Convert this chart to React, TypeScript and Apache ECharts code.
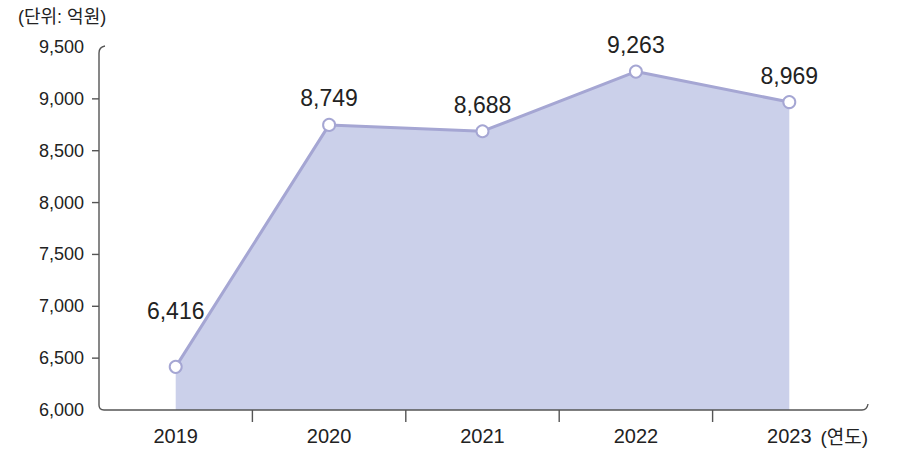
import React, { useEffect, useRef } from "react";
import * as echarts from "echarts";

const years = ["2019", "2020", "2021", "2022", "2023"];
const values = [6416, 8749, 8688, 9263, 8969];
const yMin = 6000;
const yMax = 9500;
const yStep = 500;
const innerYTicks = [6500, 7000, 7500, 8000, 8500, 9000];
const unitLabel = "(단위: 억원)";
const xUnitLabel = "(연도)";

const font = "'Liberation Sans', 'Noto Sans CJK KR', sans-serif";
const lineColor = "#a5a6d3";
const areaColor = "#cbd0ea";
const axisColor = "#555555";
const textColor = "#222222";

export default function App() {
  const ref = useRef<HTMLDivElement>(null);
  useEffect(() => {
    document.body.style.margin = "0";
    const chart = echarts.init(ref.current!, null, { renderer: "svg" });
    chart.setOption({
      animation: false,
      grid: { left: 99, right: 31, top: 47, bottom: 42 },
      xAxis: {
        type: "category",
        data: years,
        boundaryGap: true,
        axisLine: { show: false },
        axisTick: { show: false },
        axisLabel: { fontSize: 20, color: textColor, fontFamily: font, margin: 16 },
      },
      yAxis: {
        type: "value",
        min: yMin,
        max: yMax,
        interval: yStep,
        axisLine: { show: false },
        axisTick: { show: false },
        splitLine: { show: false },
        axisLabel: {
          fontSize: 18,
          color: textColor,
          margin: 15,
          fontFamily: font,
          formatter: (v: number) => v.toLocaleString("en-US"),
        },
      },
      series: [
        {
          type: "line",
          data: values.map((v, i) => (i === 0 ? { value: v, label: { offset: [0, -29] } } : v)),
          symbol: "circle",
          symbolSize: 12,
          z: 3,
          itemStyle: { color: "#ffffff", borderColor: lineColor, borderWidth: 2 },
          lineStyle: { color: lineColor, width: 3 },
          areaStyle: { color: areaColor, opacity: 1 },
          label: {
            show: true,
            position: "top",
            distance: 8,
            fontSize: 23,
            color: textColor,
            fontFamily: font,
            formatter: (p: any) => Number(p.value).toLocaleString("en-US"),
          },
        },
      ],
    });

    const c0 = chart.convertToPixel({ xAxisIndex: 0 }, years[0]) as number;
    const c1 = chart.convertToPixel({ xAxisIndex: 0 }, years[1]) as number;
    const bw = c1 - c0;
    const left = c0 - bw / 2;
    const right = (chart.convertToPixel({ xAxisIndex: 0 }, years[years.length - 1]) as number) + bw / 2;
    const top = chart.convertToPixel({ yAxisIndex: 0 }, yMax) as number;
    const bottom = chart.convertToPixel({ yAxisIndex: 0 }, yMin) as number;

    const d =
      `M ${left + 6} ${top - 1} Q ${left} ${top} ${left} ${top + 6} ` +
      `L ${left} ${bottom - 5} Q ${left} ${bottom} ${left + 5} ${bottom} ` +
      `L ${right - 4} ${bottom} Q ${right + 1} ${bottom} ${right + 2} ${bottom - 6}`;
    echarts.graphic.registerShape("frame", echarts.graphic.extendPath(d, {}));

    const elements: any[] = [
      {
        type: "frame",
        x: 0,
        y: 0,
        z: 10,
        style: { fill: "none", stroke: axisColor, lineWidth: 1.4 },
      },
      {
        type: "text",
        x: 18,
        y: 17,
        z: 10,
        style: {
          text: unitLabel,
          fontSize: 18,
          fontFamily: font,
          fill: textColor,
          textVerticalAlign: "middle",
        },
      },
      {
        type: "text",
        x: right + 2,
        y: bottom + 27,
        z: 10,
        style: {
          text: xUnitLabel,
          fontSize: 19,
          fontFamily: font,
          fill: textColor,
          textAlign: "right",
          textVerticalAlign: "middle",
        },
      },
    ];
    innerYTicks.forEach((t) => {
      const y = chart.convertToPixel({ yAxisIndex: 0 }, t) as number;
      elements.push({
        type: "line",
        z: 10,
        shape: { x1: left - 7, y1: y, x2: left, y2: y },
        style: { stroke: axisColor, lineWidth: 1.4 },
      });
    });
    years.slice(0, -1).forEach((yr) => {
      const x = (chart.convertToPixel({ xAxisIndex: 0 }, yr) as number) + bw / 2;
      elements.push({
        type: "line",
        z: 10,
        shape: { x1: x, y1: bottom, x2: x, y2: bottom + 12 },
        style: { stroke: axisColor, lineWidth: 1.4 },
      });
    });
    chart.setOption({ graphic: { elements } });

    return () => chart.dispose();
  }, []);
  return <div ref={ref} style={{ width: 897, height: 452 }} />;
}
